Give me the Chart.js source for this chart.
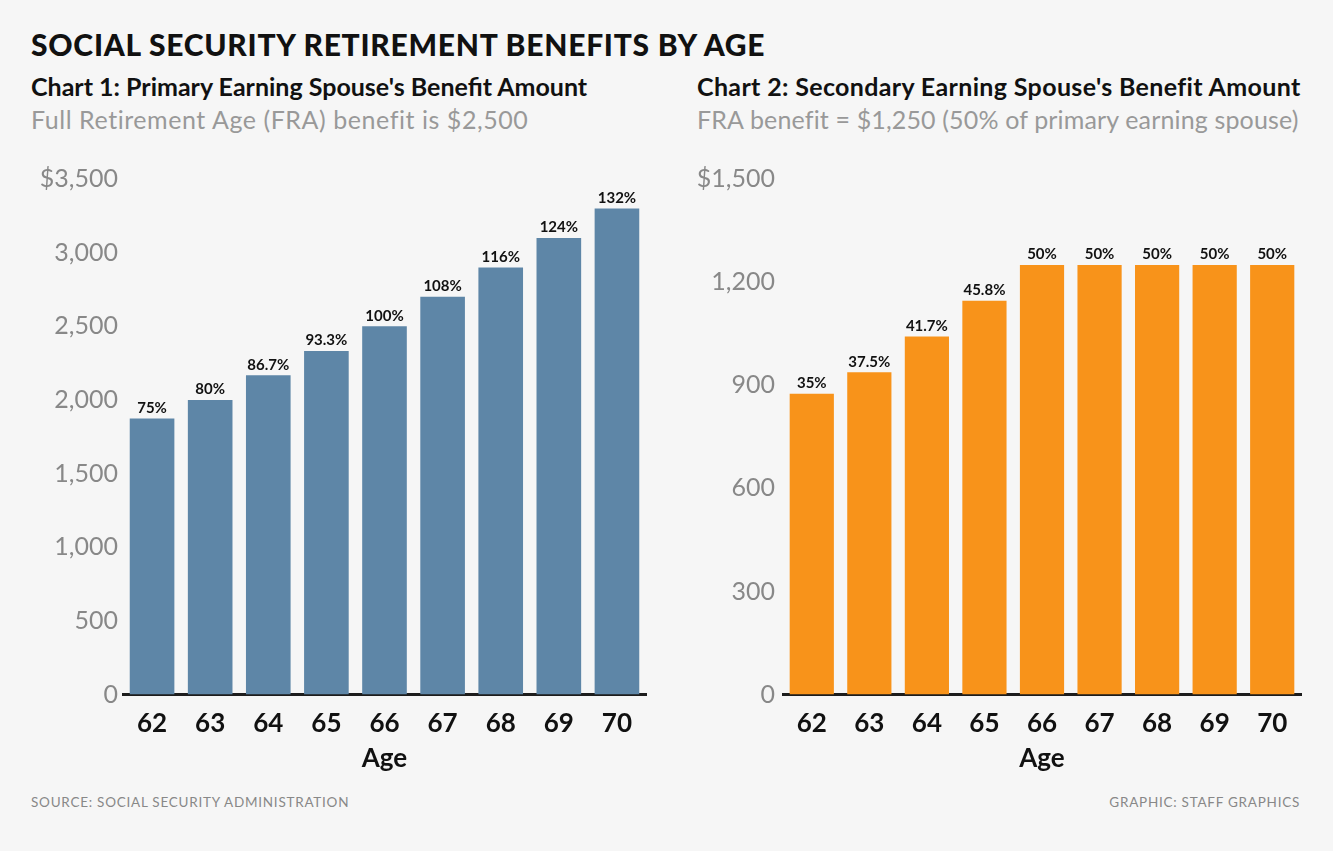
<!DOCTYPE html>
<html>
<head>
<meta charset="utf-8">
<script src="https://cdn.jsdelivr.net/npm/chart.js@4.4.1/dist/chart.umd.min.js"></script>
<style>
  html, body { margin: 0; padding: 0; background: #f6f6f6; }
  body { width: 1333px; height: 851px; position: relative; overflow: hidden; font-family: Lato, "Open Sans", sans-serif; }
  .title { position: absolute; left: 31px; top: 26px; font-size: 30px; font-weight: 900; color: #111; letter-spacing: 0.75px; }
  .sub { position: absolute; font-size: 25px; font-weight: 700; color: #111; white-space: nowrap; }
  .note { position: absolute; font-size: 25px; color: #999; white-space: nowrap; }
  .src { position: absolute; font-size: 13.5px; color: #888; letter-spacing: 0.75px; white-space: nowrap; }
  .box { position: absolute; }
</style>
</head>
<body>
<div class="title">SOCIAL SECURITY RETIREMENT BENEFITS BY AGE</div>
<div class="sub" style="left:31px; top:71px;">Chart 1: Primary Earning Spouse's Benefit Amount</div>
<div class="note" style="left:31px; top:104px; letter-spacing:0.55px;">Full Retirement Age (FRA) benefit is $2,500</div>
<div class="sub" style="left:697px; top:71px; letter-spacing:0.35px;">Chart 2: Secondary Earning Spouse's Benefit Amount</div>
<div class="note" style="left:697px; top:104px; letter-spacing:0.15px;">FRA benefit = $1,250 (50% of primary earning spouse)</div>
<div class="src" style="left:31px; top:794px;">SOURCE: SOCIAL SECURITY ADMINISTRATION</div>
<div class="src" style="right:33px; top:794px;">GRAPHIC: STAFF GRAPHICS</div>

<div class="box" style="left:0px; top:150px; width:660px; height:630px;"><canvas id="chart1"></canvas></div>
<div class="box" style="left:660px; top:150px; width:655px; height:630px;"><canvas id="chart2"></canvas></div>

<script>
// Ages on the x axis
const ages = ['62', '63', '64', '65', '66', '67', '68', '69', '70'];

// Chart 1: primary earner monthly benefit ($)
const primaryBenefit = [1875, 2000, 2167, 2333, 2500, 2700, 2900, 3100, 3300];
const primaryPct = ['75%', '80%', '86.7%', '93.3%', '100%', '108%', '116%', '124%', '132%'];
const primaryTicks = [0, 500, 1000, 1500, 2000, 2500, 3000, 3500];

// Chart 2: secondary earner spousal benefit ($)
const spouseBenefit = [875, 937.5, 1042, 1146, 1250, 1250, 1250, 1250, 1250];
const spousePct = ['35%', '37.5%', '41.7%', '45.8%', '50%', '50%', '50%', '50%', '50%'];
const spouseTicks = [0, 300, 600, 900, 1200, 1500];

// draws the percent labels above each bar
const barLabels = {
    id: 'barLabels',
    afterDatasetsDraw(chart, args, opts) {
        const ctx = chart.ctx;
        const meta = chart.getDatasetMeta(0);
        ctx.save();
        ctx.font = '700 15px Lato, sans-serif';
        ctx.fillStyle = '#111';
        ctx.textAlign = 'center';
        ctx.textBaseline = 'bottom';
        meta.data.forEach((bar, i) => {
            ctx.fillText(opts.labels[i], bar.x, bar.y - 3);
        });
        ctx.restore();
    }
};

function makeChart(id, values, pct, ticks, max, color, labelPad) {
    return new Chart(document.getElementById(id).getContext('2d'), {
        type: 'bar',
        data: {
            labels: ages,
            datasets: [{
                data: values,
                backgroundColor: color,
                borderWidth: 0,
                categoryPercentage: 0.8,
                barPercentage: 0.96
            }]
        },
        options: {
            responsive: true,
            maintainAspectRatio: false,
            animation: false,
            layout: { padding: { top: 29, right: 14, bottom: 6, left: 0 } },
            plugins: {
                legend: { display: false },
                tooltip: { enabled: false },
                barLabels: { labels: pct }
            },
            scales: {
                x: {
                    grid: { display: false, tickLength: 11 },
                    border: { color: '#1d1d1d', width: 3 },
                    ticks: { color: '#111', font: { family: 'Lato', size: 26, weight: '700' }, padding: 2 },
                    title: { display: true, text: 'Age', color: '#111', font: { family: 'Lato', size: 26, weight: '700' }, padding: { top: 2, bottom: 0 } }
                },
                y: {
                    min: 0,
                    max: max,
                    afterFit: axis => { axis.width = 123; },
                    afterBuildTicks: axis => { axis.ticks = ticks.map(v => ({ value: v })); },
                    grid: { display: false, tickLength: 0 },
                    border: { display: false },
                    ticks: {
                        color: '#888',
                        padding: labelPad,
                        font: { family: 'Lato', size: 25 },
                        callback: v => (v === max ? '$' : '') + (v >= 1000 ? v.toLocaleString('en-US') : v)
                    }
                }
            }
        },
        plugins: [barLabels]
    });
}

const chart1 = makeChart('chart1', primaryBenefit, primaryPct, primaryTicks, 3500, '#5e86a7', 5);
const chart2 = makeChart('chart2', spouseBenefit, spousePct, spouseTicks, 1500, '#f8931a', 8);
</script>
</body>
</html>
